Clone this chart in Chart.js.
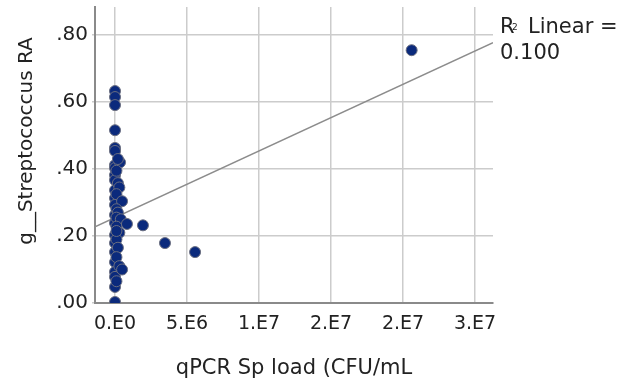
<!DOCTYPE html>
<html>
<head>
<meta charset="utf-8">
<script src="https://cdn.jsdelivr.net/npm/chart.js@4"></script>
<style>
  body { margin: 0; background: #ffffff; }
  #wrap { width: 625px; height: 382px; }
</style>
</head>
<body>
<div id="wrap"><canvas id="chart" width="625" height="382"></canvas></div>
<script>
// values
const spLoad = [
  0, 0, 0, 0, 0, 0, 0, 0, 0, 0, 0, 0, 0, 0, 0, 0, 0, 0, 0, 0, 0, 0, 0,
  3.5e5, 1e5, 2e5, 3e5, 1e5, 4.9e5, 1e5, 2e5, 1e5, 4e5, 1e5, 3e5, 1e5, 2e5, 1e5, 3e5, 1e5, 2e5, 1e5,
  4.9e5, 8.3e5, 1.94e6, 3.47e6, 5.56e6, 2.06e7
];
const streptoRA = [
  0.633, 0.615, 0.591, 0.516, 0.463, 0.454, 0.412, 0.403, 0.382, 0.367, 0.337, 0.313,
  0.293, 0.263, 0.239, 0.203, 0.179, 0.152, 0.122, 0.093, 0.078, 0.048, 0.003,
  0.420, 0.395, 0.358, 0.345, 0.325, 0.304, 0.280, 0.270, 0.255, 0.250, 0.228, 0.210,
  0.190, 0.165, 0.137, 0.110, 0.065, 0.430, 0.215,
  0.100, 0.236, 0.232, 0.179, 0.152, 0.755
];

// linear fit (SPSS reference line)
const fitIntercept = 0.255;
const fitSlope = 1.99e-8;
const rSquared = '0.100';

const xMin = -1.39e6;
const xMax = 2.625e7;
const yMin = 0;
const yMax = 0.884;

const xTicks = [0, 5e6, 1e7, 1.5e7, 2e7, 2.5e7];
const xTickLabels = ['0.E0', '5.E6', '1.E7', '2.E7', '2.E7', '3.E7'];
const yTicks = [0, 0.2, 0.4, 0.6, 0.8];
const yTickLabels = ['.00', '.20', '.40', '.60', '.80'];

const yTitle = 'g__Streptococcus RA';
const font = 'DejaVu Sans';
const textColor = '#222222';

const points = spLoad.map((x, i) => ({ x: x, y: streptoRA[i] }));
const fitLine = [xMin, xMax].map(x => ({ x: x, y: fitIntercept + fitSlope * x }));

// R2 note and the y title (SPSS puts it a bit above the middle)
const labels = {
  id: 'labels',
  afterDraw(chart) {
    const ctx = chart.ctx;
    ctx.save();
    ctx.fillStyle = textColor;
    ctx.textBaseline = 'middle';
    ctx.font = '21px "' + font + '"';
    ctx.fillText('R', 500, 28);
    ctx.font = '9px "' + font + '"';
    ctx.fillText('2', 512, 28);
    ctx.font = '21px "' + font + '"';
    ctx.fillText('Linear =', 528, 28);
    ctx.fillText(rSquared, 500, 54);

    ctx.translate(27, 141);
    ctx.rotate(-Math.PI / 2);
    ctx.textAlign = 'center';
    ctx.font = '20px "' + font + '"';
    ctx.fillText(yTitle, 0, 0);
    ctx.restore();
  }
};

new Chart(document.getElementById('chart'), {
  type: 'scatter',
  data: {
    datasets: [
      {
        type: 'line',
        data: fitLine,
        borderColor: '#8c8c8c',
        borderWidth: 1.5,
        pointRadius: 0,
        fill: false,
        order: 2
      },
      {
        data: points,
        backgroundColor: '#0b2a7c',
        borderColor: '#6a6e80',
        borderWidth: 1,
        pointRadius: 5.5,
        order: 1
      }
    ]
  },
  options: {
    responsive: false,
    animation: false,
    layout: { padding: { left: 0, right: 132, top: 7, bottom: 0 } },
    plugins: { legend: { display: false }, tooltip: { enabled: false } },
    scales: {
      x: {
        type: 'linear',
        min: xMin,
        max: xMax,
        afterBuildTicks: s => { s.ticks = xTicks.map(v => ({ value: v })); },
        afterFit: s => { s.height = 79; s.paddingLeft = 0; s.paddingRight = 0; },
        ticks: {
          autoSkip: false,
          maxRotation: 0,
          padding: 10,
          color: textColor,
          font: { family: font, size: 19 },
          callback: (v, i) => xTickLabels[i]
        },
        grid: { color: '#cccccc', lineWidth: 1.5, drawTicks: false },
        border: { color: '#8a8a8a', width: 2 },
        title: {
          display: true,
          text: 'qPCR Sp load (CFU/mL',
          color: textColor,
          font: { family: font, size: 21 },
          padding: { top: 0, bottom: 1 }
        }
      },
      y: {
        min: yMin,
        max: yMax,
        afterBuildTicks: s => { s.ticks = yTicks.map(v => ({ value: v })); },
        afterFit: s => { s.width = 95; s.paddingTop = 0; s.paddingBottom = 0; },
        ticks: {
          padding: 4,
          color: textColor,
          font: { family: font, size: 20 },
          callback: (v, i) => yTickLabels[i]
        },
        grid: { color: '#cccccc', lineWidth: 1.5, tickLength: 3 },
        border: { color: '#8a8a8a', width: 2 }
      }
    }
  },
  plugins: [labels]
});
</script>
</body>
</html>
